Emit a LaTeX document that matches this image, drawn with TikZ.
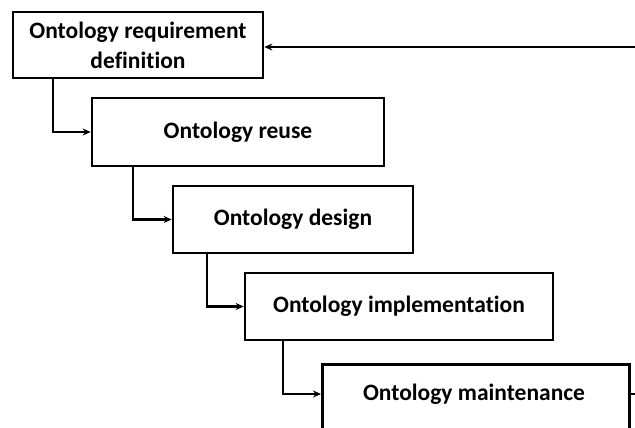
\documentclass[tikz,border=0pt]{standalone}
\usepackage{fontspec}
\setmainfont[RawFeature=-liga]{Carlito}
\usetikzlibrary{arrows.meta}
\begin{document}
\begin{tikzpicture}[x=1pt,y=-1pt,
  txt/.style={font=\fontsize{23.5}{30}\selectfont\bfseries},
  stagebox/.style={draw,line width=2.6pt,fill=white,inner sep=0pt,align=center,txt},
  conn/.style={line width=2.4pt,-{Stealth[length=8pt,width=7pt]}},
  ]
\useasboundingbox (0,0) rectangle (635,428);
\clip (0,0) rectangle (635,428);
\node[stagebox,minimum width=250pt,minimum height=66pt] (b1) at (138,45) {Ontology requirement\\definition};
\node[stagebox,minimum width=292pt,minimum height=68pt] (b2) at (238,132) {Ontology reuse};
\node[stagebox,minimum width=240pt,minimum height=67pt] (b3) at (293,219.5) {Ontology design};
\node[stagebox,minimum width=308pt,minimum height=67pt] (b4) at (399,306.5) {Ontology implementation};
\node[stagebox,minimum width=307pt,minimum height=130pt,anchor=north west] (b5) at (321,363) {};
\node[txt] (t5) at (474,394) {Ontology maintenance};
\coordinate (c1) at (53,0);
\draw[conn] (b1.south -| c1) |- (b2.west);
\coordinate (c2) at (133,0);
\draw[conn] (b2.south -| c2) |- (b3.west);
\coordinate (c3) at (207,0);
\draw[conn] (b3.south -| c3) |- (b4.west);
\coordinate (c4) at (283,0);
\draw[conn] (b4.south -| c4) |- (t5.west -| b5.west);
\coordinate (r1) at (640,47);
\draw[conn] (r1) -- (r1 -| b1.east);
\coordinate (r2) at (640,394);
\draw[line width=2.4pt] (r2 -| b5.east) -- (r2);
\end{tikzpicture}
\end{document}
